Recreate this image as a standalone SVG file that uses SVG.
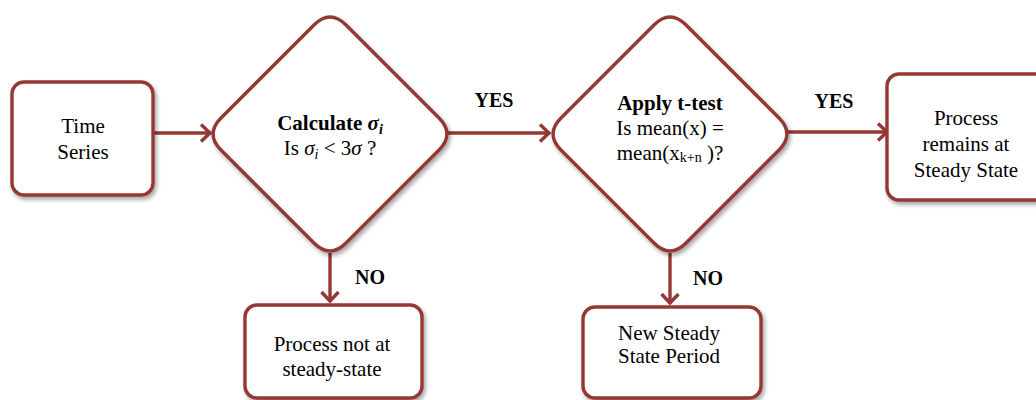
<svg xmlns="http://www.w3.org/2000/svg" width="1036" height="400" viewBox="0 0 1036 400">
  <style>
    .shape { fill: #ffffff; stroke: #953735; stroke-width: 3.4; filter: url(#shadow); }
    .conn { fill: none; stroke: #953735; stroke-width: 3.4; }
    .txt { font-family: "Liberation Serif", "Times New Roman", serif; font-size: 21px; fill: #000000; text-anchor: middle; }
    .b { font-weight: bold; }
    .lbl { font-family: "Liberation Serif", "Times New Roman", serif; font-size: 20px; font-weight: bold; fill: #000000; text-anchor: middle; }
    .it { font-style: italic; }
  </style>
  <defs>
    <filter id="shadow" x="-10%" y="-10%" width="125%" height="125%">
      <feGaussianBlur in="SourceAlpha" stdDeviation="2"/>
      <feOffset dx="2" dy="3" result="off"/>
      <feComponentTransfer><feFuncA type="linear" slope="0.35"/></feComponentTransfer>
      <feMerge><feMergeNode/><feMergeNode in="SourceGraphic"/></feMerge>
    </filter>
    <marker id="chev" markerUnits="userSpaceOnUse" markerWidth="20" markerHeight="20" refX="15" refY="10" orient="auto">
      <path d="M5,1.5 L14,10 L5,18.5" fill="none" stroke="#953735" stroke-width="3.4" stroke-linejoin="miter"/>
    </marker>
  </defs>

  <!-- connectors -->
  <g id="connectors">
    <line class="conn" x1="153" y1="133" x2="211" y2="133" marker-end="url(#chev)"/>
    <line class="conn" x1="447" y1="133" x2="550" y2="133" marker-end="url(#chev)"/>
    <line class="conn" x1="787" y1="132" x2="888" y2="132" marker-end="url(#chev)"/>
    <line class="conn" x1="330" y1="253" x2="330" y2="302" marker-end="url(#chev)"/>
    <line class="conn" x1="670" y1="253" x2="670" y2="304" marker-end="url(#chev)"/>
    <text class="lbl" x="494" y="107">YES</text>
    <text class="lbl" x="834" y="108">YES</text>
    <text class="lbl" x="370" y="284">NO</text>
    <text class="lbl" x="708" y="285">NO</text>
  </g>

  <!-- start: time series -->
  <g id="time-series">
    <rect class="shape" x="12" y="82" width="141" height="113" rx="12"/>
    <text class="txt" x="83" y="133">Time</text>
    <text class="txt" x="83" y="159">Series</text>
  </g>

  <!-- decision: deviation check -->
  <g id="sigma-check">
    <path class="shape" d="M314,25 Q330,9 346,25 L439,118 Q455,134 439,150 L346,243 Q330,259 314,243 L221,150 Q205,134 221,118 Z"/>
    <text class="txt" x="330" y="130"><tspan class="b">Calculate </tspan><tspan class="b it">σ</tspan><tspan class="b it" font-size="14" dy="4">i</tspan></text>
    <text class="txt" x="330" y="155">Is <tspan class="it">σ</tspan><tspan class="it" font-size="14" dy="4">i</tspan><tspan dy="-4"> &lt; 3</tspan><tspan class="it">σ</tspan> ?</text>
  </g>

  <!-- decision: t-test -->
  <g id="t-test">
    <path class="shape" d="M654,25 Q670,9 686,25 L779,118 Q795,134 779,150 L686,243 Q670,259 654,243 L561,150 Q545,134 561,118 Z"/>
    <text class="txt b" x="670" y="110">Apply t-test</text>
    <text class="txt" x="670" y="135">Is mean(x) =</text>
    <text class="txt" x="670" y="160">mean(x<tspan font-size="14" dy="2">k+n</tspan><tspan dy="-2"> )?</tspan></text>
  </g>

  <!-- outcome: steady state -->
  <g id="steady-state">
    <rect class="shape" x="887" y="74" width="165" height="126" rx="12"/>
    <text class="txt" x="966" y="125">Process</text>
    <text class="txt" x="966" y="151">remains at</text>
    <text class="txt" x="966" y="177">Steady State</text>
  </g>

  <!-- outcome: not steady -->
  <g id="not-steady">
    <rect class="shape" x="245" y="305" width="177" height="93" rx="12"/>
    <text class="txt" x="332" y="351">Process not at</text>
    <text class="txt" x="332" y="376">steady-state</text>
  </g>

  <!-- outcome: new period -->
  <g id="new-period">
    <rect class="shape" x="583" y="307" width="178" height="91" rx="12"/>
    <text class="txt" x="669" y="340">New Steady</text>
    <text class="txt" x="669" y="363">State Period</text>
  </g>
</svg>
